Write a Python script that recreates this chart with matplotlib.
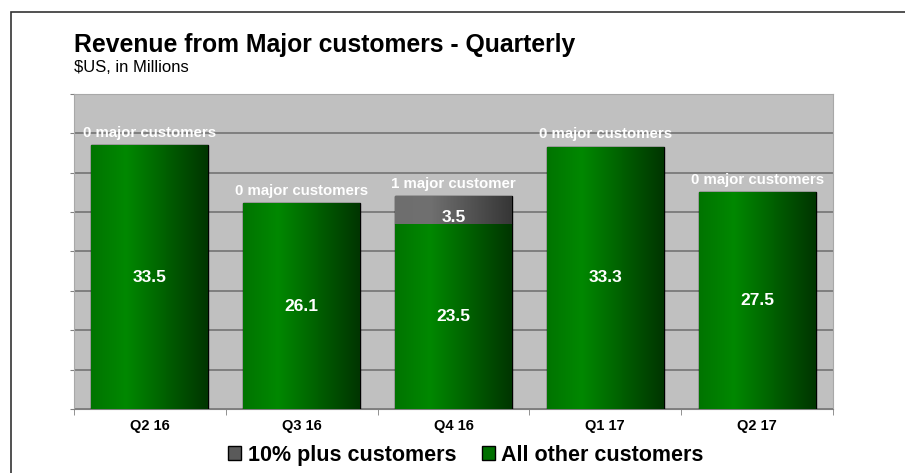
import numpy as np
import matplotlib.pyplot as plt
from matplotlib.colors import LinearSegmentedColormap
from matplotlib.patches import Rectangle

plt.rcParams['font.family'] = ['Liberation Sans', 'DejaVu Sans']

# ---------------- DATA ---------------- #
quarters = ["Q2 16", "Q3 16", "Q4 16", "Q1 17", "Q2 17"]
other_customers = [33.5, 26.1, 23.5, 33.3, 27.5]
major_customers = [0, 0, 3.5, 0, 0]
major_labels = ["0 major customers", "0 major customers", "1 major customer",
                "0 major customers", "0 major customers"]

green_cmap = LinearSegmentedColormap.from_list(
    "grn", [(0, "#007400"), (0.3, "#008800"), (1, "#003500")])
gray_cmap = LinearSegmentedColormap.from_list(
    "gry", [(0, "#6e6e6e"), (0.3, "#707070"), (1, "#363636")])

grad = np.linspace(0, 1, 256).reshape(1, -1)


def gradient_bar(ax, bar, cmap):
    x, y = bar.get_x(), bar.get_y()
    w, h = bar.get_width(), bar.get_height()
    im = ax.imshow(grad, cmap=cmap, aspect="auto", extent=(x, x + w, y, y + h),
                   zorder=bar.get_zorder(), interpolation="bicubic")
    im.set_clip_path(bar)
    bar.set_facecolor("none")


# ---------------- FIGURE ---------------- #
fig = plt.figure(figsize=(9.05, 4.73), dpi=100)
ax = fig.add_axes([74 / 905, 1 - 409 / 473, 759 / 905, 315 / 473])
ax.set_facecolor("#c0c0c0")

x = np.arange(len(quarters))
bars_g = ax.bar(x, other_customers, width=0.77, edgecolor="black", linewidth=1, zorder=3)
bars_m = ax.bar(x, major_customers, width=0.77, bottom=other_customers,
                edgecolor="black", linewidth=1, zorder=3)

for b in bars_g:
    gradient_bar(ax, b, green_cmap)
for b, v in zip(bars_m, major_customers):
    if v > 0:
        gradient_bar(ax, b, gray_cmap)
    else:
        b.set_visible(False)

# value labels
for i, v in enumerate(other_customers):
    ax.text(i, v / 2, f"{v}", ha="center", va="center", color="white",
            fontsize=12.5, fontweight="bold", zorder=5)
for i, v in enumerate(major_customers):
    if v > 0:
        ax.text(i, other_customers[i] + v * 0.25, f"{v}", ha="center", va="center",
                color="white", fontsize=12.5, fontweight="bold", zorder=5)

for i, lab in enumerate(major_labels):
    top = other_customers[i] + major_customers[i]
    ax.text(i, top + 1.6, lab, ha="center", va="center", color="white",
            fontsize=10.8, fontweight="bold", zorder=5)

ax.set_xlim(-0.5, len(quarters) - 0.5)
ax.set_ylim(0, 40)
ax.set_yticks(np.arange(0, 41, 5))
ax.set_yticklabels([])
ax.yaxis.grid(True, color="#7a7a7a", linewidth=1.3, zorder=0)
ax.set_axisbelow(True)
ax.tick_params(axis="y", length=3, color="#808080")

ax.set_xticks(x)
ax.set_xticklabels(quarters, fontsize=10.5, fontweight="bold")
ax.set_xticks(np.arange(-0.5, len(quarters)), minor=True)
ax.tick_params(axis="x", which="major", length=0, pad=7)
ax.tick_params(axis="x", which="minor", length=4, color="#808080")

for s in ["top", "right", "left"]:
    ax.spines[s].set_color("#a8a8a8")
ax.spines["bottom"].set_color("#808080")

# legend
h_major = Rectangle((0, 0), 1, 1, facecolor="#5a5a5a", edgecolor="black")
h_other = Rectangle((0, 0), 1, 1, facecolor="#007000", edgecolor="black")
fig.legend([h_major, h_other], ["10% plus customers", "All other customers"],
           loc="center", bbox_to_anchor=(466 / 905, 1 - 455 / 473), ncol=2,
           frameon=False, prop={"size": 15.5, "weight": "bold"},
           handlelength=0.6, handleheight=0.6, handletextpad=0.3, columnspacing=1.2)

# titles
fig.text(74 / 905, 1 - 45 / 473, "Revenue from Major customers - Quarterly",
         fontsize=17.8, fontweight="bold", va="center", ha="left")
fig.text(74 / 905, 1 - 68 / 473, "$US, in Millions", fontsize=12,
         va="center", ha="left")

# outer frame
fig.patches.append(Rectangle((11 / 905, -0.1), 1.1, 1 - 12 / 473 + 0.1,
                             transform=fig.transFigure, fill=False,
                             edgecolor="#333333", linewidth=1.2))

plt.savefig("out.png", dpi=100)
plt.close()
